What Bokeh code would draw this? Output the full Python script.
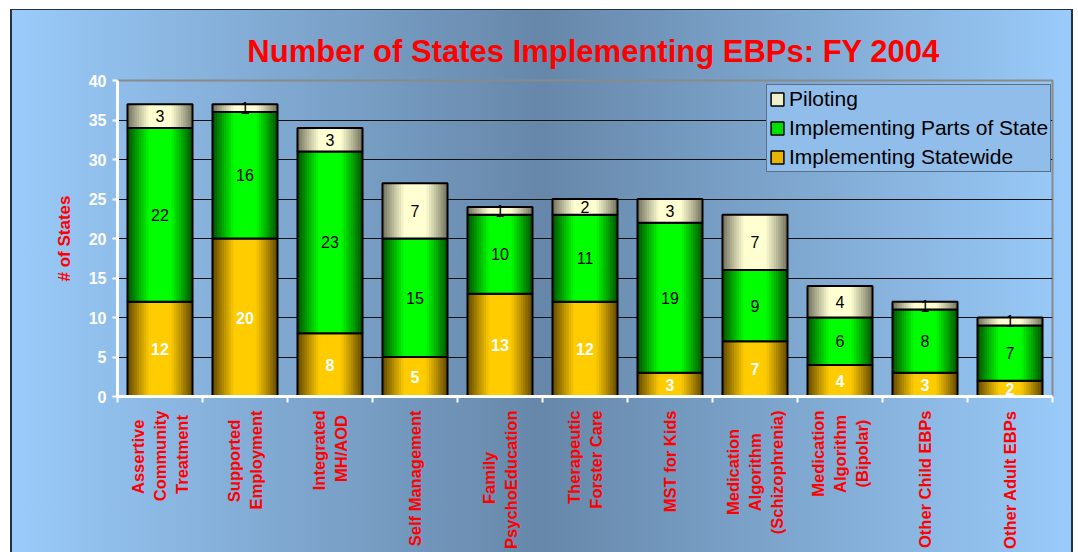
import math
from bokeh.plotting import figure
from bokeh.models import Range1d, FixedTicker, Legend, LegendItem, ColumnDataSource
from bokeh.core.properties import value
from bokeh.embed import file_html
from bokeh.resources import INLINE

# ---- data ----
categories = [
    "Assertive\nCommunity\nTreatment",
    "Supported\nEmployment",
    "Integrated\nMH/AOD",
    "Self Management",
    "Family\nPsychoEducation",
    "Therapeutic\nForster Care",
    "MST for Kids",
    "Medication\nAlgorithm\n(Schizophrenia)",
    "Medication\nAlgorithm\n(Bipolar)",
    "Other Child EBPs",
    "Other Adult EBPs",
]
statewide = [12, 20, 8, 5, 13, 12, 3, 7, 4, 3, 2]
parts_of_state = [22, 16, 23, 15, 10, 11, 19, 9, 6, 8, 7]
piloting = [3, 1, 3, 7, 1, 2, 3, 7, 4, 1, 1]
series_names = ["Implementing Statewide", "Implementing Parts of State", "Piloting"]
y_ticks = [0, 5, 10, 15, 20, 25, 30, 35, 40]
title_text = "Number of States Implementing EBPs: FY 2004"
y_title = "# of States"

FONT = "Liberation Sans"
n = len(categories)
xs = [i + 0.5 for i in range(n)]
series = [statewide, parts_of_state, piloting]
bright = [(255, 204, 0), (0, 255, 0), (255, 255, 210)]
dark = [(105, 78, 0), (0, 90, 0), (120, 120, 100)]
legend_fill = ["#e8b400", "#00e000", "#f0f0c8"]
label_color = ["white", "black", "black"]
label_weight = ["bold", "normal", "normal"]

# approximate bold glyph advance widths (per 1000 em) to centre multi-line labels
_BW = {'A': 722, 'B': 722, 'C': 722, 'D': 722, 'E': 667, 'F': 611, 'H': 722, 'I': 278,
       'K': 722, 'M': 833, 'O': 778, 'P': 667, 'S': 667, 'T': 611, '/': 278, '(': 333,
       ')': 333, ' ': 278, 'f': 333, 'i': 278, 'l': 278, 'm': 889, 'r': 389, 't': 333,
       'z': 500, 'o': 611, 'n': 611, 'u': 611, 'p': 611, 'd': 611, 'g': 611, 'h': 611,
       'b': 611, 'k': 556}


def centre_lines(label):
    lines = label.split("\n")
    ws = [sum(_BW.get(ch, 556) for ch in ln) for ln in lines]
    mw = max(ws)
    return "\n".join(ln + "\u00a0" * int(round((mw - w) / 2 / 278)) for ln, w in zip(lines, ws))


p = figure(width=1063, height=543, x_range=Range1d(0, n), y_range=Range1d(0, 40),
           output_backend="svg", toolbar_location=None,
           min_border_left=107, min_border_right=21, min_border_top=71, min_border_bottom=156)
p.border_fill_color = None
p.background_fill_color = None
p.outline_line_color = "#8a8a8a"
p.outline_line_width = 2
p.styles = {
    "margin-left": "10px",
    "margin-top": "9px",
    "background": "linear-gradient(to right, #9acbfa 0%, #6687a9 50%, #9acbfa 100%)",
    "box-shadow": "inset 2px 1px 0 #223344, inset -2px 0 0 #223344",
}

# title
p.title.text = "\u00a0\u00a0" + title_text
p.title.text_font = FONT
p.title.text_font_size = "31px"
p.title.text_font_style = "bold"
p.title.text_color = "#ff0000"
p.title.align = "center"
p.title.vertical_align = "top"
p.title.offset = 10
p.title.standoff = 20

# bars with horizontal gradient layers
W = 0.765
N = 14
bottoms = [0] * n
legend_renderers = []
for si, vals in enumerate(series):
    tops = [b + v for b, v in zip(bottoms, vals)]
    src = ColumnDataSource(dict(x=xs, bottom=bottoms, top=tops,
                                mid=[(b + t) / 2 for b, t in zip(bottoms, tops)],
                                txt=[str(v) for v in vals]))
    for k in range(N):
        d = 1 - k / N
        t = max(0.0, min(1.0, (d - 0.35) / 0.65)) ** 1.1
        c = tuple(int(round(bright[si][j] * (1 - t) + dark[si][j] * t)) for j in range(3))
        col = "#%02x%02x%02x" % c
        p.vbar(x="x", bottom="bottom", top="top", width=W * d, source=src,
               fill_color=col, line_color=None)
    p.vbar(x="x", bottom="bottom", top="top", width=W, source=src,
           fill_color=None, line_color="black", line_width=2)
    lr = p.vbar(x="x", bottom="bottom", top="top", width=W, source=src,
                fill_color=legend_fill[si], line_color="black", line_width=1.5, visible=False)
    legend_renderers.append(lr)
    p.text(x="x", y="mid", text="txt", source=src, text_align="center", text_baseline="middle",
           text_font=value(FONT), text_font_size="16px", text_font_style=label_weight[si],
           text_color=label_color[si])
    bottoms = tops

# axes
xa = p.xaxis[0]
xa.ticker = FixedTicker(ticks=xs, minor_ticks=list(range(n + 1)))
xa.major_label_overrides = {x: centre_lines(c) for x, c in zip(xs, categories)}
xa.major_label_orientation = math.pi / 2
xa.major_label_text_font = FONT
xa.major_label_text_font_size = "16.5px"
xa.major_label_text_font_style = "bold"
xa.major_label_text_color = "#ff0000"
xa.major_label_text_line_height = 1.23
xa.major_tick_line_color = None
xa.major_tick_out = 0
xa.major_tick_in = 0
xa.major_label_standoff = 8
xa.minor_tick_line_color = "white"
xa.minor_tick_line_width = 2
xa.minor_tick_out = 6
xa.minor_tick_in = 0
xa.axis_line_color = "white"
xa.axis_line_width = 3

ya = p.yaxis[0]
ya.ticker = FixedTicker(ticks=y_ticks)
ya.axis_label = y_title
ya.axis_label_text_font = FONT
ya.axis_label_text_font_size = "17px"
ya.axis_label_text_font_style = "bold"
ya.axis_label_text_color = "#ff0000"
ya.axis_label_standoff = 12
ya.major_label_text_font = FONT
ya.major_label_text_font_size = "16px"
ya.major_label_text_font_style = "bold"
ya.major_label_text_color = "white"
ya.major_label_standoff = 6
ya.major_tick_line_color = "white"
ya.major_tick_line_width = 2
ya.major_tick_out = 5
ya.major_tick_in = 0
ya.minor_tick_line_color = None
ya.axis_line_color = "white"
ya.axis_line_width = 3

p.xgrid.grid_line_color = None
p.ygrid.ticker = FixedTicker(ticks=y_ticks[1:-1])
p.ygrid.grid_line_color = "#111111"
p.ygrid.grid_line_width = 1

# legend
items = [LegendItem(label=series_names[i], renderers=[legend_renderers[i]]) for i in [2, 1, 0]]
legend = Legend(items=items, location=(649, 224), margin=0, padding=2,
                spacing=5, glyph_width=16, glyph_height=16, label_height=16,
                label_standoff=4,
                label_text_font=FONT, label_text_font_size="21px", label_text_color="black",
                background_fill_color="#90bdea", background_fill_alpha=1,
                border_line_color="#222222", border_line_width=1)
p.add_layout(legend, "center")

open("out.html", "w").write(file_html(p, INLINE))
